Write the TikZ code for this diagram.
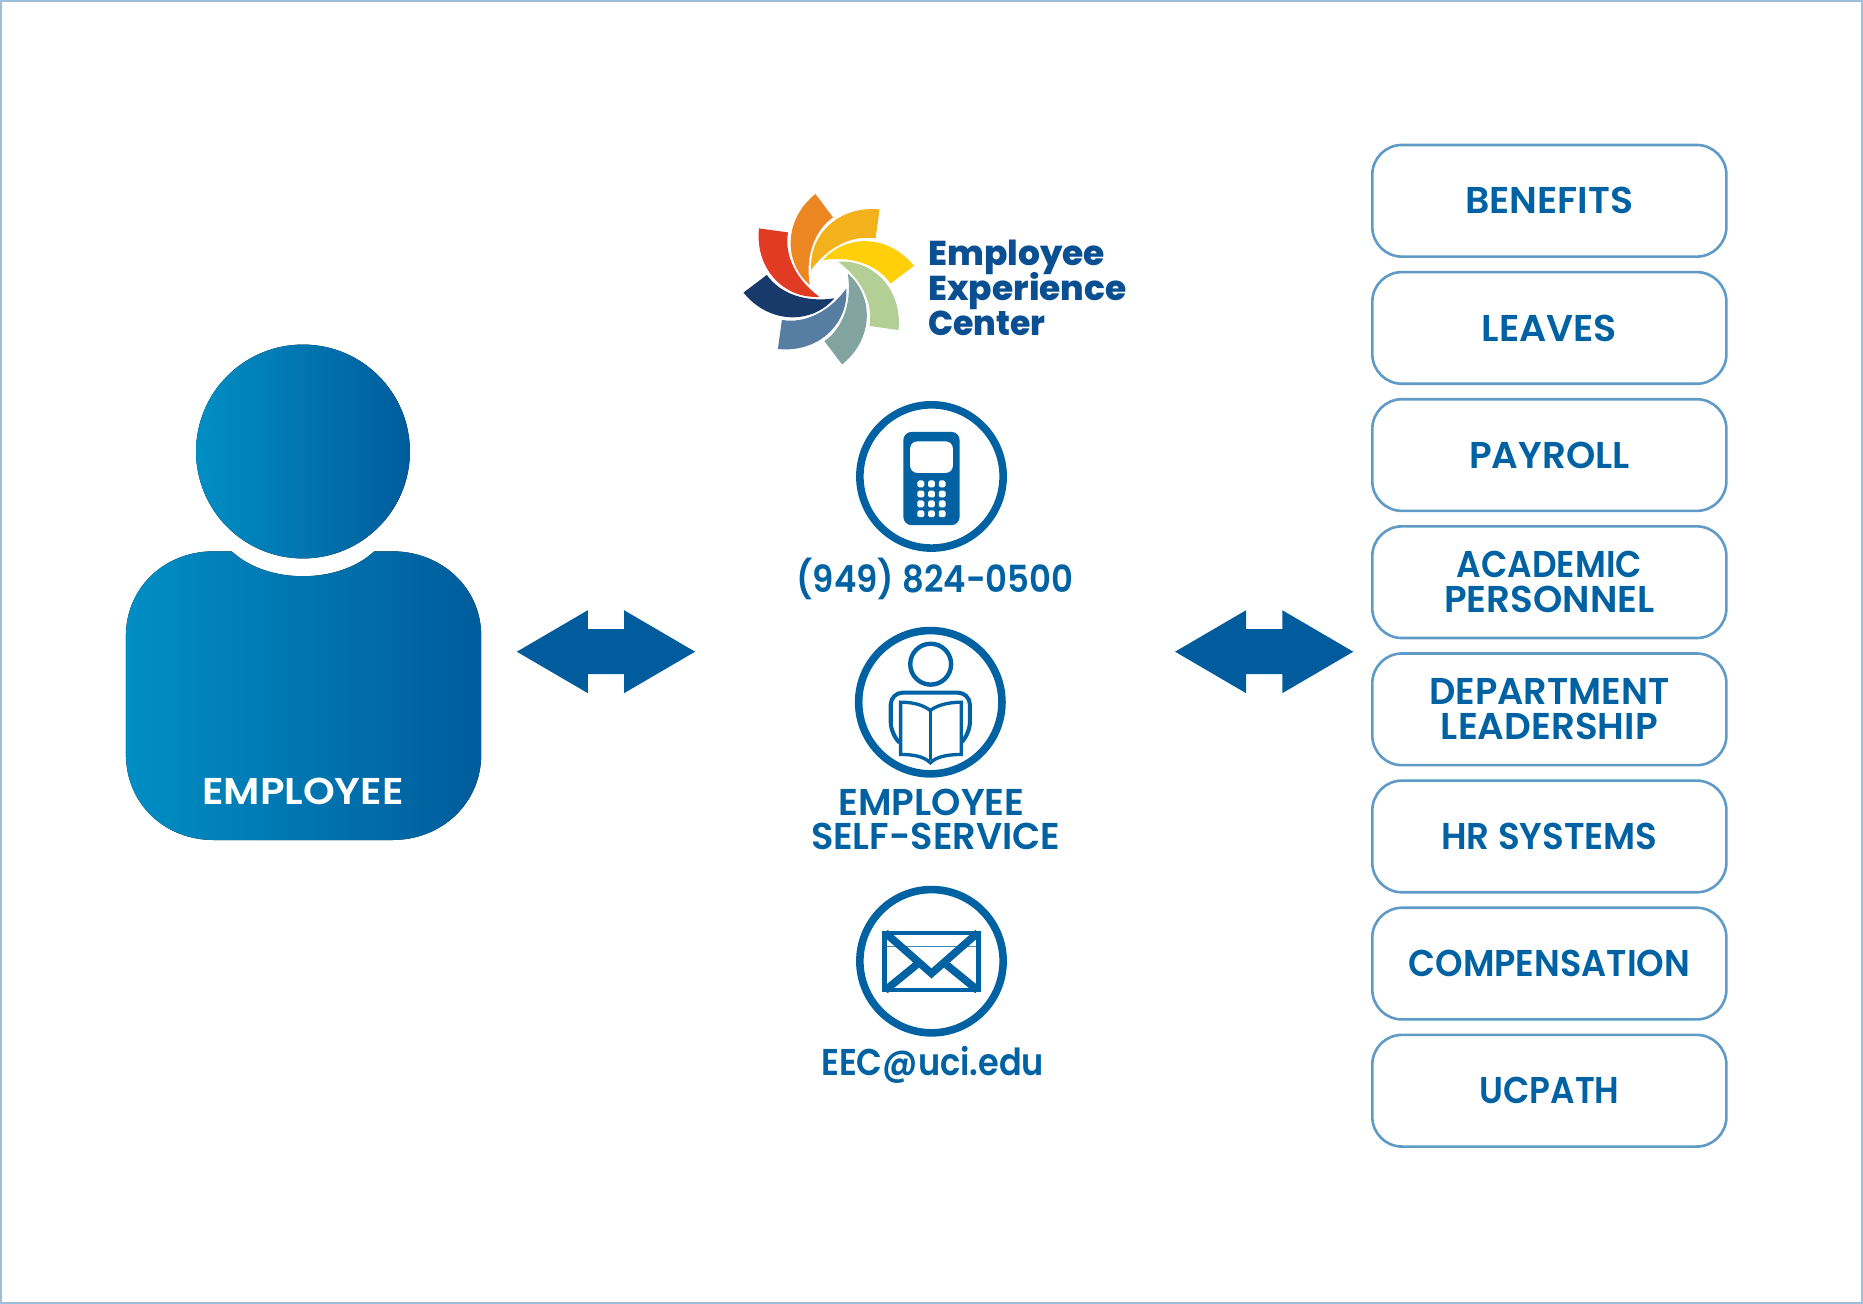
\documentclass[tikz,border=0pt]{standalone}
\usepackage{fontspec}
\setmainfont{Poppins}[BoldFont={Poppins SemiBold}]
\newfontfamily\logofont{Poppins ExtraBold}
\usetikzlibrary{shapes.arrows}
\definecolor{ink}{HTML}{0062A2}
\definecolor{arrowcol}{HTML}{005C9C}
\definecolor{framecol}{HTML}{9FC0DC}
\definecolor{boxcol}{HTML}{5F9BC6}
\definecolor{logoink}{HTML}{0A4F92}
\definecolor{lightink}{HTML}{3F86B8}
\definecolor{bodyleft}{HTML}{008EC4}
\definecolor{bodymid}{HTML}{0080B8}
\definecolor{petalyellow}{HTML}{FFCF0A}
\definecolor{petalgreen}{HTML}{B3CF96}
\definecolor{petalteal}{HTML}{81A4A0}
\definecolor{petalsteel}{HTML}{577DA3}
\definecolor{petalnavy}{HTML}{183A6A}
\definecolor{petalred}{HTML}{E23B24}
\definecolor{petalorange}{HTML}{EC8622}
\definecolor{petalgold}{HTML}{F3B11B}
\newcommand{\petalpath}{(-4.86,-16.29) .. controls (14.29,-38.57) and (50.57,-38.86) .. (72.86,-11.43) -- (52.86,3.71) .. controls (41.43,-12.86) and (18.57,-20) .. (-4.86,-16.29) -- cycle}
\begin{document}
\begin{tikzpicture}[x=0.5pt,y=-0.5pt]
	\tikzstyle{every node}+=[inner sep=0pt,font=\bfseries\fontsize{15.7}{14.6}\selectfont,text=ink,align=center]
	\tikzstyle{deptbox}=[draw=boxcol,line width=1.1pt,rounded corners=12.5pt,minimum width=149pt,minimum height=47pt]
	\tikzstyle{ringicon}=[draw=ink,circle,line width=3.2pt,minimum size=60.3pt]
	\tikzstyle{blockarrow}=[shape=double arrow,fill=arrowcol,inner ysep=9.25pt,minimum width=34.5pt,minimum height=75pt,double arrow head extend=8pt,double arrow tip angle=60.6]
	\tikzstyle{phonekey}=[fill=white,rounded corners=0.7pt,minimum size=2.9pt]
	\tikzstyle{logotext}=[anchor=base west,text=logoink,font=\logofont\fontsize{14.5}{14.6}\selectfont]
	\useasboundingbox (0,0) rectangle (1568,1097.5);
	\draw [framecol,line width=1pt] (1,1) rectangle (1567,1096.5);
	% person
	\fill [left color=bodyleft,middle color=bodymid,right color=arrowcol] (255,380) circle (90);
	\fill [left color=bodyleft,middle color=bodymid,right color=arrowcol] (195,464) .. controls (225,492) and (285,492) .. (315,464) -- (330,464) .. controls (372,464) and (405,495) .. (405,535) -- (405,635) .. controls (405,676) and (372,707) .. (330,707) -- (180,707) .. controls (138,707) and (106,676) .. (106,635) -- (106,535) .. controls (106,495) and (138,464) .. (180,464) -- cycle;
	\node [text=white] (employee) at (255,666) {\scalebox{1.084}[1]{EMPLOYEE}};
	% arrows
	\node [blockarrow] (arrowleft) at (510,548.5) {};
	\node [blockarrow] (arrowright) at (1064,548.5) {};
	% logo
	\fill [petalyellow,shift={(697.5,235)},rotate=0,scale=0.985] \petalpath;
	\fill [petalgreen,shift={(697.5,235)},rotate=-45,scale=0.985] \petalpath;
	\fill [petalteal,shift={(697.5,235)},rotate=-90,scale=0.985] \petalpath;
	\fill [petalsteel,shift={(697.5,235)},rotate=-135,scale=0.985] \petalpath;
	\fill [petalnavy,shift={(697.5,235)},rotate=-180,scale=0.985] \petalpath;
	\fill [petalred,shift={(697.5,235)},rotate=-225,scale=0.985] \petalpath;
	\fill [petalorange,shift={(697.5,235)},rotate=-270,scale=0.985] \petalpath;
	\fill [petalgold,shift={(697.5,235)},rotate=-315,scale=0.985] \petalpath;
	\node [logotext] (logoa) at (781,223.5) {Employee};
	\node [logotext] (logob) at (781,253) {Experience};
	\node [logotext] (logoc) at (781,282) {\scalebox{0.96}[1]{Center}};
	% phone
	\node [ringicon] (ringphone) at (784,401) {};
	\fill [ink,rounded corners=3.5pt] (760.3,363.5) rectangle (807.7,442);
	\fill [white,rounded corners=3pt] (766,371.5) rectangle (802,398);
	\node [phonekey] (keya) at (775,407.3) {};
	\node [phonekey] (keyb) at (784,407.3) {};
	\node [phonekey] (keyc) at (793,407.3) {};
	\node [phonekey] (keyd) at (775,415.8) {};
	\node [phonekey] (keye) at (784,415.8) {};
	\node [phonekey] (keyf) at (793,415.8) {};
	\node [phonekey] (keyg) at (775,424.1) {};
	\node [phonekey] (keyh) at (784,424.1) {};
	\node [phonekey] (keyi) at (793,424.1) {};
	\node [phonekey] (keyj) at (775,432.4) {};
	\node [phonekey] (keyk) at (784,432.4) {};
	\node [phonekey] (keyl) at (793,432.4) {};
	\node (phonetext) at (787,487) {\scalebox{0.91}[1]{(949) 824-0500}};
	% self service
	\node [ringicon] (ringbook) at (783,591) {};
	\draw [ink,line width=1.85pt] (783.3,559) circle (17.2);
	\draw [ink,line width=1.7pt,rounded corners=5pt] (757,625) -- (749.7,618) -- (749.7,583) -- (816.3,583) -- (816.3,618) -- (809,625);
	\draw [ink,fill=white,line width=1.4pt] (758,591) .. controls (770,591) and (778,594) .. (783,598) .. controls (788,594) and (797,591) .. (809,591) -- (809,635) .. controls (797,635) and (788,637) .. (783,642) .. controls (778,637) and (770,635) .. (758,635) -- cycle;
	\draw [ink,line width=1.4pt] (783,598) -- (783,640);
	\node (selfa) at (784,675) {EMPLOYEE};
	\node (selfb) at (787.5,704) {\scalebox{0.985}[1]{SELF-SERVICE}};
	% mail
	\node [ringicon] (ringmail) at (784,809) {};
	\draw [lightink,line width=0.6pt] (745,796.5) -- (823,796.5);
	\draw [ink,line width=2pt] (744.7,785.3) rectangle (823.3,833.3);
	\begin{scope}
		\clip (743,783.3) rectangle (825,835.3);
		\draw [ink,line width=3.2pt] (745,785) -- (784,819.3) -- (823,785);
		\draw [ink,line width=3.2pt] (745,833.5) -- (771.4,812);
		\draw [ink,line width=3.2pt] (823,833.5) -- (796.6,812);
	\end{scope}
	\node (mailtext) at (785,896) {\scalebox{0.9}[1]{EEC@uci.edu}};
	% departments
	\node [deptbox] (benefits) at (1304,169) {\scalebox{1.015}[1]{BENEFITS}};
	\node [deptbox] (leaves) at (1304,276) {\scalebox{1.018}[1]{LEAVES}};
	\node [deptbox] (payroll) at (1304,383) {PAYROLL};
	\node [deptbox] (academic) at (1304,490) {\scalebox{0.92}[1]{ACADEMIC}\\PERSONNEL};
	\node [deptbox] (department) at (1304,597) {\scalebox{0.985}[1]{DEPARTMENT}\\LEADERSHIP};
	\node [deptbox] (hrsystems) at (1304,704) {\scalebox{0.957}[1]{HR SYSTEMS}};
	\node [deptbox] (compensation) at (1304,811) {\scalebox{0.94}[1]{COMPENSATION}};
	\node [deptbox] (ucpath) at (1304,918) {\scalebox{0.92}[1]{UCPATH}};
\end{tikzpicture}
\end{document}
